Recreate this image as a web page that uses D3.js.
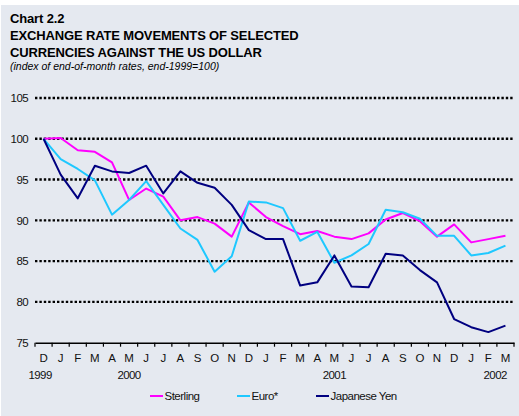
<!DOCTYPE html>
<html>
<head>
<meta charset="utf-8">
<script src="https://cdn.jsdelivr.net/npm/d3@7"></script>
<style>
  body { margin: 0; background: #fff; }
  svg { display: block; font-family: "Liberation Sans", Arial, sans-serif; }
</style>
</head>
<body>
<svg id="chart"></svg>
<script>
// months from Dec 1999 to Mar 2002
const months = ["D","J","F","M","A","M","J","J","A","S","O","N",
  "D","J","F","M","A","M","J","J","A","S","O","N","D","J","F","M"];

const sterling = [100, 100.1, 98.6, 98.4, 97.1, 92.5, 93.9, 92.9, 90.0, 90.4, 89.6, 88.0,
  92.2, 90.4, 89.3, 88.3, 88.7, 88.0, 87.7, 88.4, 90.1, 90.9, 89.9, 88.0, 89.5, 87.3, 87.7, 88.1];
const euro = [100, 97.5, 96.3, 94.9, 90.7, 92.5, 94.8, 91.9, 89.0, 87.6, 83.7, 85.6,
  92.3, 92.2, 91.5, 87.5, 88.6, 84.8, 85.7, 87.1, 91.3, 91.0, 90.2, 88.1, 88.1, 85.7, 86.0, 86.9];
const yen = [100, 95.6, 92.7, 96.7, 96.0, 95.8, 96.7, 93.3, 96.0, 94.6, 94.0, 91.9,
  88.8, 87.7, 87.7, 82.0, 82.4, 85.7, 81.9, 81.8, 85.9, 85.7, 83.9, 82.4, 77.9, 76.9, 76.3, 77.1];

const yTicks = [75, 80, 85, 90, 95, 100, 105];
// year label and the month index it sits under
const years = [["1999", -0.2], ["2000", 5], ["2001", 17], ["2002", 26.4]];

const series = [
  { name: "Sterling", values: sterling, color: "#ff00ff" },
  { name: "Euro*", values: euro, color: "#1ec8ff" },
  { name: "Japanese Yen", values: yen, color: "#000080" }
];

const W = 519, H = 416;
const svg = d3.select("#chart").attr("width", W).attr("height", H);

svg.append("rect").attr("x", 1).attr("y", 5).attr("width", W - 1).attr("height", H - 5)
  .attr("fill", "#e5e9f0");

// titles
const titles = [["Chart 2.2", 23], ["EXCHANGE RATE MOVEMENTS OF SELECTED", 40],
  ["CURRENCIES AGAINST THE US DOLLAR", 56.5]];
svg.append("g").selectAll("text").data(titles).join("text")
  .attr("x", 10).attr("y", d => d[1]).attr("font-size", 13).attr("font-weight", "bold")
  .attr("letter-spacing", -0.15).text(d => d[0]);
svg.append("text").attr("x", 10).attr("y", 70).attr("font-size", 10.5).attr("font-style", "italic")
  .attr("letter-spacing", 0).text("(index of end-of-month rates, end-1999=100)");

const x = d3.scaleBand().domain(d3.range(months.length)).range([35, 514]);
const y = d3.scaleLinear().domain([75, 105]).range([342.7, 98]);
const cx = i => x(i) + x.bandwidth() / 2;

// dotted gridlines
svg.append("g")
  .selectAll("line")
  .data(yTicks.filter(d => d > 75))
  .join("line")
  .attr("x1", 35).attr("x2", 514)
  .attr("y1", d => y(d)).attr("y2", d => y(d))
  .attr("stroke", "#000").attr("stroke-width", 2.4)
  .attr("stroke-dasharray", "2.4,2");

// y axis labels
const yAxis = svg.append("g")
  .attr("transform", "translate(35,0)")
  .call(d3.axisLeft(y).tickValues(yTicks).tickSize(0).tickPadding(7));
yAxis.select(".domain").remove();
yAxis.selectAll("text").attr("font-size", 11.5).attr("fill", "#111")
  .attr("font-family", "Liberation Sans, Arial, sans-serif").attr("letter-spacing", -0.6);

// x axis
const xAxis = svg.append("g")
  .attr("transform", `translate(0,${y(75)})`)
  .call(d3.axisBottom(x).tickFormat(i => months[i]).tickSize(0).tickPadding(11));
xAxis.select(".domain").attr("stroke", "#000").attr("stroke-width", 1.4);
xAxis.selectAll("text").attr("font-size", 11.5).attr("fill", "#111")
  .attr("font-family", "Liberation Sans, Arial, sans-serif");

// tick marks at band boundaries
xAxis.append("g")
  .selectAll("line")
  .data(d3.range(months.length + 1))
  .join("line")
  .attr("x1", i => 35 + i * x.step()).attr("x2", i => 35 + i * x.step())
  .attr("y1", 0).attr("y2", 4)
  .attr("stroke", "#000").attr("stroke-width", 1.2);

svg.append("g")
  .selectAll("text")
  .data(years)
  .join("text")
  .attr("x", d => x(0) + x.bandwidth() / 2 + d[1] * x.step())
  .attr("y", 379)
  .attr("text-anchor", "middle")
  .attr("font-size", 11.5).attr("fill", "#111").attr("letter-spacing", -0.6)
  .text(d => d[0]);

// lines
const line = d3.line().x((d, i) => cx(i)).y(d => y(d));
svg.append("g")
  .selectAll("path")
  .data(series)
  .join("path")
  .attr("d", d => line(d.values))
  .attr("fill", "none")
  .attr("stroke", d => d.color)
  .attr("stroke-width", 2)
  .attr("stroke-linejoin", "round");

// legend
const legendX = [150, 237, 316];
const legend = svg.append("g")
  .selectAll("g")
  .data(series)
  .join("g")
  .attr("transform", (d, i) => `translate(${legendX[i]},396)`);
legend.append("line").attr("x1", 0).attr("x2", 13).attr("y1", 0).attr("y2", 0)
  .attr("stroke", d => d.color).attr("stroke-width", 2);
legend.append("text").attr("x", 14.5).attr("y", 4)
  .attr("font-size", 11.5).attr("fill", "#111").attr("letter-spacing", -0.5)
  .text(d => d.name);
</script>
</body>
</html>
